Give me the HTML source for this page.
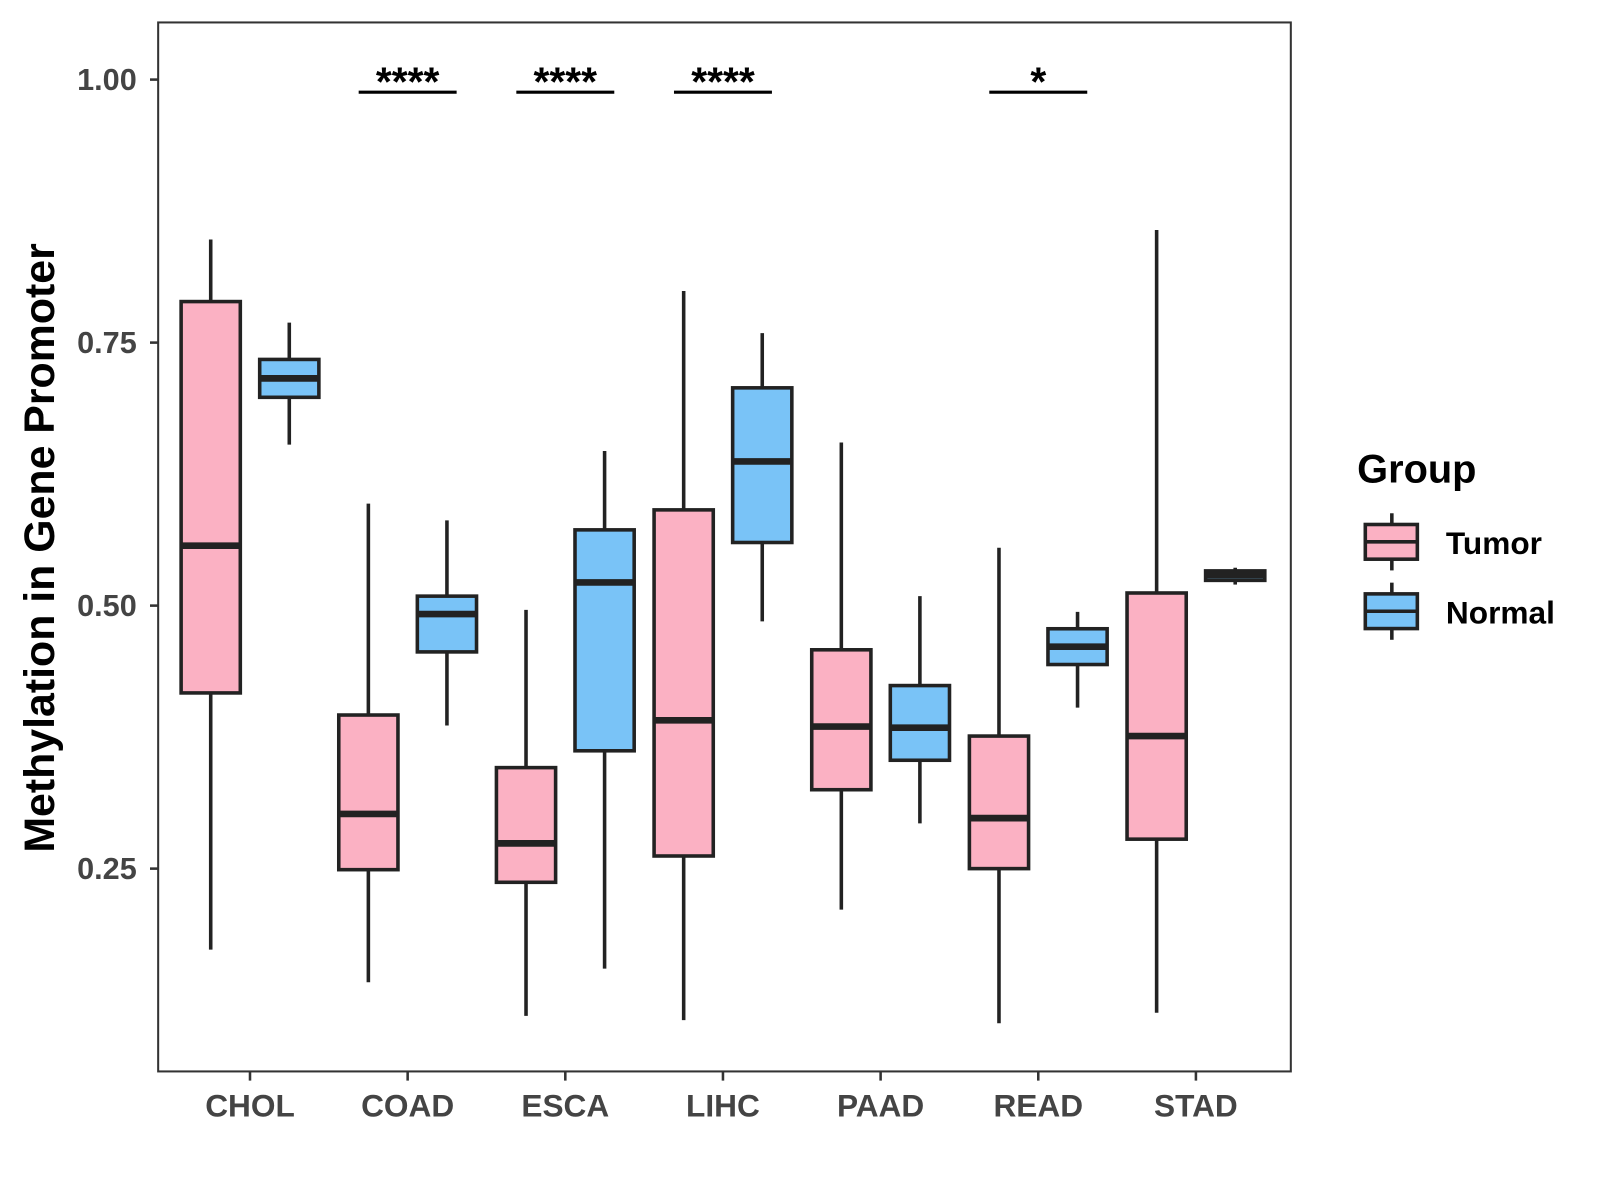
<!DOCTYPE html>
<html><head><meta charset="utf-8"><style>html,body{margin:0;padding:0;background:#fff}svg{display:block}text{font-family:"Liberation Sans",Arial,sans-serif;font-weight:bold}</style></head>
<body>
<svg id="chart" width="1600" height="1200" viewBox="0 0 1568 1176" xmlns="http://www.w3.org/2000/svg">
<rect x="0" y="0" width="1568" height="1176" fill="#fff"/>
<g id="plot"></g>
<text x="0" y="0" transform="translate(53,537) rotate(-90)" text-anchor="middle" font-size="42" fill="#000">Methylation in Gene Promoter</text>
<g>
<text x="1330" y="473" font-size="39" fill="#000">Group</text>
<g>
<line x1="1364" y1="503" x2="1364" y2="559" stroke="#222" stroke-width="3.5"/>
<rect x="1338" y="514" width="51" height="34" fill="#FBB1C3" stroke="#222" stroke-width="3.5"/>
<line x1="1338" y1="531" x2="1389" y2="531" stroke="#222" stroke-width="3.5"/>
<text x="1417" y="543" font-size="31" fill="#000">Tumor</text></g>
<g>
<line x1="1364" y1="571" x2="1364" y2="627" stroke="#222" stroke-width="3.5"/>
<rect x="1338" y="582" width="51" height="34" fill="#79C3F7" stroke="#222" stroke-width="3.5"/>
<line x1="1338" y1="599" x2="1389" y2="599" stroke="#222" stroke-width="3.5"/>
<text x="1417" y="611" font-size="31" fill="#000">Normal</text></g>
</g>
</svg>
<script>
const categories = ["CHOL","COAD","ESCA","LIHC","PAAD","READ","STAD"];
// [low, q1, median, q3, high]
const tumorStats = [
 [0.173,0.417,0.557,0.789,0.848],
 [0.142,0.249,0.302,0.396,0.597],
 [0.110,0.237,0.274,0.346,0.496],
 [0.106,0.262,0.391,0.591,0.799],
 [0.211,0.325,0.385,0.458,0.655],
 [0.103,0.250,0.298,0.376,0.555],
 [0.113,0.278,0.376,0.512,0.857]];
const normalStats = [
 [0.653,0.698,0.716,0.734,0.769],
 [0.386,0.456,0.492,0.509,0.581],
 [0.155,0.362,0.522,0.572,0.647],
 [0.485,0.560,0.637,0.707,0.759],
 [0.293,0.353,0.384,0.424,0.509],
 [0.403,0.444,0.461,0.478,0.494],
 [0.520,0.524,0.529,0.533,0.536]];
const sigCategories = ["COAD","ESCA","LIHC","READ"];
const sigLabels = ["****","****","****","*"];
const yTicks = [0.25,0.50,0.75,1.00];
const yTickLabels = ["0.25","0.50","0.75","1.00"];

const NS="http://www.w3.org/2000/svg";
const g=document.getElementById('plot');
const L=155,T=22,R=1265,B=1050;
const y=v=>78+(1-v)*1031;
const x=i=>245+i*154.5;
function mk(tag,attrs,parent){const e=document.createElementNS(NS,tag);for(const k in attrs)e.setAttribute(k,attrs[k]);(parent||g).appendChild(e);return e;}

const panel=mk('rect',{x:L,y:T,width:R-L,height:B-T,fill:'none',stroke:'#333','stroke-width':2});



yTicks.forEach((v,i)=>{
 const tk=mk('line',{x1:L-8,x2:L,y1:y(v),y2:y(v),stroke:'#333','stroke-width':2.5});
 
 
 const t=mk('text',{x:L-21,y:y(v)+10,'text-anchor':'end','font-size':30,fill:'#444'});
 t.textContent=yTickLabels[i];
 
 
});
categories.forEach((c,i)=>{
 const tk=mk('line',{x1:x(i),x2:x(i),y1:B,y2:B+9,stroke:'#333','stroke-width':2.5});
 
 
 const t=mk('text',{x:x(i),y:1094,'text-anchor':'middle','font-size':31,fill:'#444'});
 t.textContent=c;
 
 
});
function box(cx,s,fill,name){
 const grp=mk('g',{});
 
 
 const w=58;
 mk('line',{x1:cx,x2:cx,y1:y(s[4]),y2:y(s[0]),stroke:'#222','stroke-width':3.5},grp);
 mk('rect',{x:cx-w/2,y:y(s[3]),width:w,height:y(s[1])-y(s[3]),fill:fill,stroke:'#222','stroke-width':3.5},grp);
 mk('line',{x1:cx-w/2,x2:cx+w/2,y1:y(s[2]),y2:y(s[2]),stroke:'#222','stroke-width':6.5},grp);
}
categories.forEach((c,i)=>{
 box(x(i)-38.5,tumorStats[i],'#FBB1C3','box-tumor-'+c.toLowerCase());
 box(x(i)+38.5,normalStats[i],'#79C3F7','box-normal-'+c.toLowerCase());
});
sigCategories.forEach((c,k)=>{
 const i=categories.indexOf(c);
 const ln=mk('line',{x1:x(i)-48,x2:x(i)+48,y1:y(0.988),y2:y(0.988),stroke:'#000','stroke-width':3});
 
 
 const t=mk('text',{x:x(i),y:y(0.988)+3,'text-anchor':'middle','font-size':40,fill:'#000'});
 t.textContent=sigLabels[k];
 
 
});
</script>
</body></html>
